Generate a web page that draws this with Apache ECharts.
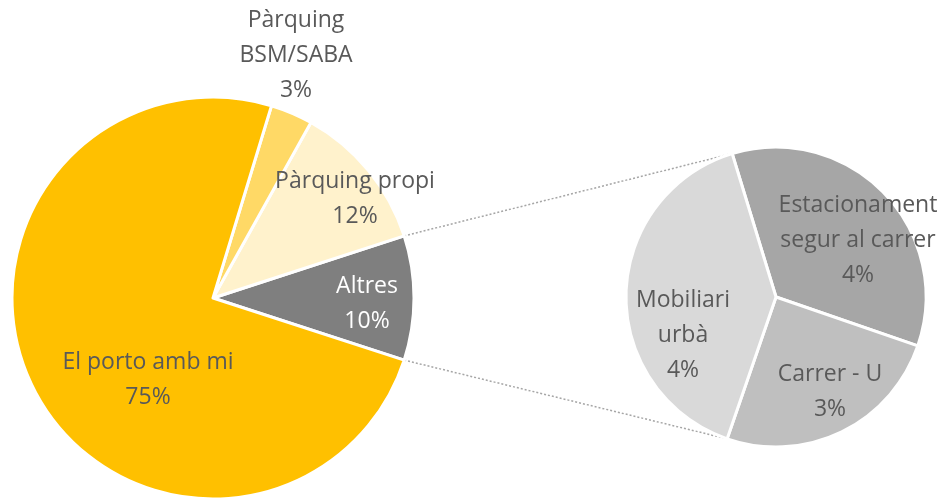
<!DOCTYPE html>
<html>
<head>
<meta charset="utf-8">
<script src="https://cdn.jsdelivr.net/npm/echarts@6/dist/echarts.min.js"></script>
<style>
html,body{margin:0;padding:0;background:#fff;}
#chart{width:950px;height:501px;}
</style>
</head>
<body>
<div id="chart"></div>
<script>
// ---- data ----
var mainNames = ['Altres', 'Pàrquing propi', 'Pàrquing\nBSM/SABA', 'El porto amb mi'];
var mainValues = [10, 11.9, 3.4, 74.7];
var mainColors = ['#7F7F7F', '#FFF2CC', '#FFD966', '#FFC000'];

var subNames = ['Estacionament\nsegur al carrer', 'Carrer - U', 'Mobiliari\nurbà'];
var subValues = [3.5, 2.5, 4.0];
var subColors = ['#A6A6A6', '#BFBFBF', '#D9D9D9'];

// ---- layout ----
var mainC = [213, 298], mainR = 201;
var subC = [776, 297], subR = 150;
var mainLabelOff = [[154, 6], [142, -99], [83, -243], [-65, 82]];
var subLabelOff = [[82, -57], [54, 95], [-93, 38]];

var mainTotal = mainValues.reduce(function(a,b){return a+b;},0);
var subTotal = subValues.reduce(function(a,b){return a+b;},0);
var altresAngle = mainValues[0] / mainTotal * 360;
var mainStart = -altresAngle / 2;
var subStart = 107;

function fmt(p){ return p.name + '\n' + Math.round(p.value) + '%'; }

var chart = echarts.init(document.getElementById('chart'), null, {renderer:'canvas'});

function pt(c, r, deg){
  var a = deg * Math.PI / 180;
  return [c[0] + r * Math.cos(a), c[1] - r * Math.sin(a)];
}
var p1 = pt(mainC, mainR, mainStart + altresAngle);
var p2 = pt(mainC, mainR, mainStart);
var q1 = pt(subC, subR, subStart);
var q2 = pt(subC, subR, subStart - (subValues[0] + subValues[1]) / subTotal * 360);

var labelBase = {
  show: true, position: 'inside', formatter: fmt,
  fontFamily: '"Open Sans", Lato, sans-serif', fontSize: 23, lineHeight: 35,
  color: '#595959', align: 'center', verticalAlign: 'middle'
};

chart.setOption({
  backgroundColor: '#fff',
  animation: false,
  series: [
    {
      type: 'pie', center: mainC, radius: mainR,
      startAngle: mainStart, clockwise: false,
      avoidLabelOverlap: false,
      itemStyle: {borderColor: '#fff', borderWidth: 3},
      label: labelBase,
      labelLine: {show: false},
      labelLayout: function(p){
        var o = mainLabelOff[p.dataIndex];
        return {x: mainC[0] + o[0], y: mainC[1] + o[1]};
      },
      emphasis: {disabled: true},
      data: mainNames.map(function(n,i){
        return {name: n, value: mainValues[i], itemStyle: {color: mainColors[i]},
                label: i === 0 ? {color: '#fff'} : {}};
      })
    },
    {
      type: 'pie', center: subC, radius: subR,
      startAngle: subStart, clockwise: true,
      avoidLabelOverlap: false,
      itemStyle: {borderColor: '#fff', borderWidth: 3},
      label: labelBase,
      labelLine: {show: false},
      labelLayout: function(p){
        var o = subLabelOff[p.dataIndex];
        return {x: subC[0] + o[0], y: subC[1] + o[1]};
      },
      emphasis: {disabled: true},
      data: subNames.map(function(n,i){
        return {name: n, value: subValues[i], itemStyle: {color: subColors[i]}};
      })
    }
  ],
  graphic: [
    {type: 'line', shape: {x1: p1[0], y1: p1[1], x2: q1[0], y2: q1[1]},
     style: {stroke: '#A6A6A6', lineWidth: 1.5, lineDash: [2, 2]}, z: -1},
    {type: 'line', shape: {x1: p2[0], y1: p2[1], x2: q2[0], y2: q2[1]},
     style: {stroke: '#A6A6A6', lineWidth: 1.5, lineDash: [2, 2]}, z: -1}
  ]
});
</script>
</body>
</html>
